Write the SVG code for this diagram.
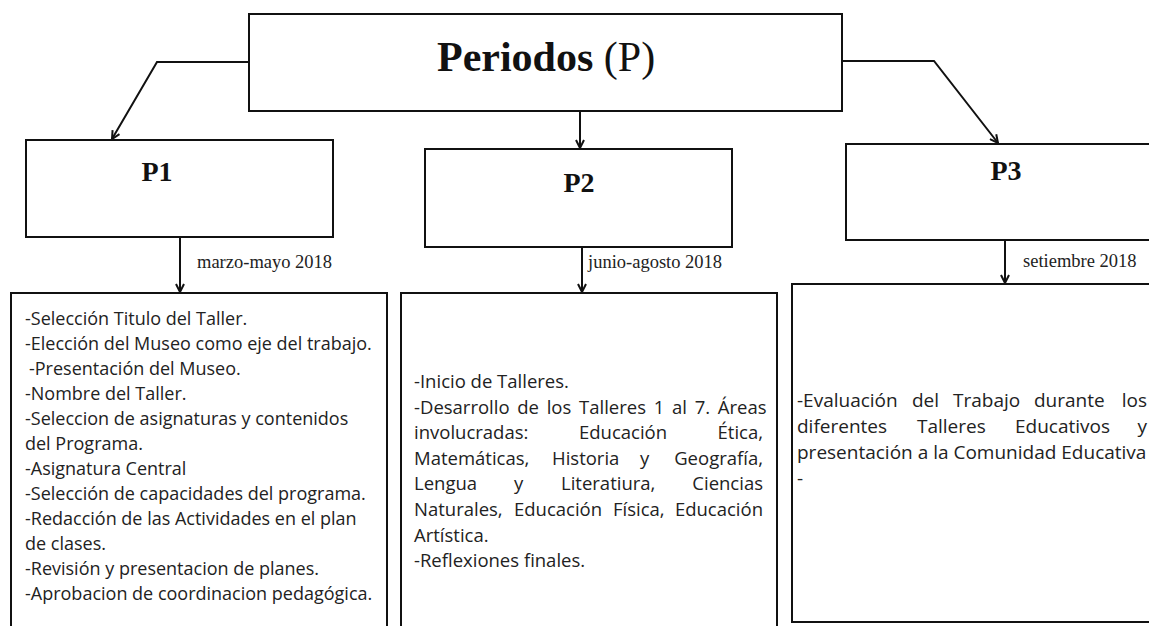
<svg xmlns="http://www.w3.org/2000/svg" width="1149" height="626" viewBox="0 0 1149 626">
<style>
.box{fill:#fff;stroke:#111;stroke-width:2}
.con{fill:none;stroke:#111;stroke-width:2}
.title{font-family:"Liberation Serif",serif;font-size:42px;fill:#111}
.pl{font-family:"Liberation Serif",serif;font-size:28px;font-weight:bold;fill:#111;text-anchor:middle}
.date{font-family:"Liberation Serif",serif;font-size:18.5px;fill:#222}
.b1{font-family:"Open Sans",sans-serif;font-size:18px;fill:#222}
.b2{font-family:"Open Sans",sans-serif;font-size:18.5px;fill:#222}
.b3{font-family:"Open Sans",sans-serif;font-size:19px;fill:#222}
.e{text-anchor:end}
</style>
<defs>
<marker id="arr" viewBox="0 0 10 10" refX="9" refY="5" markerWidth="10" markerHeight="10" orient="auto" markerUnits="userSpaceOnUse">
<path d="M1,1 L9,5 L1,9" fill="none" stroke="#111" stroke-width="2"/>
</marker>
</defs>
<rect width="1149" height="626" fill="#fff"/>

<g id="connectors">
<polyline class="con" points="249,62 157,62 112,139" marker-end="url(#arr)"/>
<line class="con" x1="580" y1="105" x2="580" y2="148" marker-end="url(#arr)"/>
<polyline class="con" points="842,61 934,61 998,143" marker-end="url(#arr)"/>
<line class="con" x1="180" y1="237" x2="180" y2="292" marker-end="url(#arr)"/>
<line class="con" x1="582" y1="247" x2="582" y2="292" marker-end="url(#arr)"/>
<line class="con" x1="1005" y1="240" x2="1005" y2="283" marker-end="url(#arr)"/>
<text class="date" x="197" y="268">marzo-mayo 2018</text>
<text class="date" x="588" y="268">junio-agosto 2018</text>
<text class="date" x="1023" y="267">setiembre 2018</text>
</g>

<g id="periodos">
<rect class="box" x="249" y="14" width="593" height="97"/>
<text class="title" x="437" y="71"><tspan font-weight="bold">Periodos</tspan> (P)</text>
</g>

<g id="p1">
<rect class="box" x="26" y="140" width="307" height="97"/>
<text class="pl" x="157" y="181">P1</text>
</g>

<g id="p2">
<rect class="box" x="425" y="149" width="307" height="98"/>
<text class="pl" x="579" y="192">P2</text>
</g>

<g id="p3">
<rect class="box" x="846" y="144" width="320" height="96"/>
<text class="pl" x="1006" y="180">P3</text>
</g>

<g id="c1">
<rect class="box" x="11" y="293" width="376" height="350"/>
<text class="b1" x="25" y="325">-Selección Titulo del Taller.</text>
<text class="b1" x="25" y="350">-Elección del Museo como eje del trabajo.</text>
<text class="b1" x="29" y="375">-Presentación del Museo.</text>
<text class="b1" x="25" y="400">-Nombre del Taller.</text>
<text class="b1" x="25" y="425">-Seleccion de asignaturas y contenidos</text>
<text class="b1" x="25" y="450">del Programa.</text>
<text class="b1" x="25" y="475">-Asignatura Central</text>
<text class="b1" x="25" y="500">-Selección de capacidades del programa.</text>
<text class="b1" x="25" y="525">-Redacción de las Actividades en el plan</text>
<text class="b1" x="25" y="550">de clases.</text>
<text class="b1" x="25" y="575">-Revisión y presentacion de planes.</text>
<text class="b1" x="25" y="600">-Aprobacion de coordinacion pedagógica.</text>
</g>

<g id="c2">
<rect class="box" x="401" y="293" width="376" height="350"/>
<text class="b2" x="414" y="388">-Inicio de Talleres.</text>
<text class="b2" x="414" y="413.6" word-spacing="2.9">-Desarrollo de los Talleres 1 al 7. Áreas</text>
<text class="b2" x="414" y="439.2">involucradas:</text>
<text class="b2" x="579" y="439.2">Educación</text>
<text class="b2 e" x="763" y="439.2">Ética,</text>
<text class="b2" x="414" y="464.8">Matemáticas,</text>
<text class="b2" x="552" y="464.8">Historia</text>
<text class="b2" x="640" y="464.8">y</text>
<text class="b2 e" x="763" y="464.8">Geografía,</text>
<text class="b2" x="414" y="490.4">Lengua</text>
<text class="b2" x="514" y="490.4">y</text>
<text class="b2" x="561" y="490.4">Literatiura,</text>
<text class="b2 e" x="763" y="490.4">Ciencias</text>
<text class="b2" x="414" y="516">Naturales,</text>
<text class="b2" x="514" y="516">Educación</text>
<text class="b2" x="613" y="516">Física,</text>
<text class="b2 e" x="763" y="516">Educación</text>
<text class="b2" x="414" y="541.6">Artística.</text>
<text class="b2" x="414" y="567.2">-Reflexiones finales.</text>
</g>

<g id="c3">
<rect class="box" x="792" y="284" width="380" height="338"/>
<text class="b3" x="797" y="407">-Evaluación</text>
<text class="b3" x="912" y="407">del</text>
<text class="b3" x="953" y="407">Trabajo</text>
<text class="b3" x="1034" y="407">durante</text>
<text class="b3 e" x="1147" y="407">los</text>
<text class="b3" x="797" y="433">diferentes</text>
<text class="b3" x="917" y="433">Talleres</text>
<text class="b3" x="1015" y="433">Educativos</text>
<text class="b3 e" x="1147" y="433">y</text>
<text class="b3" x="797" y="459">presentación a la Comunidad Educativa</text>
<text class="b3" x="797" y="485">-</text>
</g>
</svg>
